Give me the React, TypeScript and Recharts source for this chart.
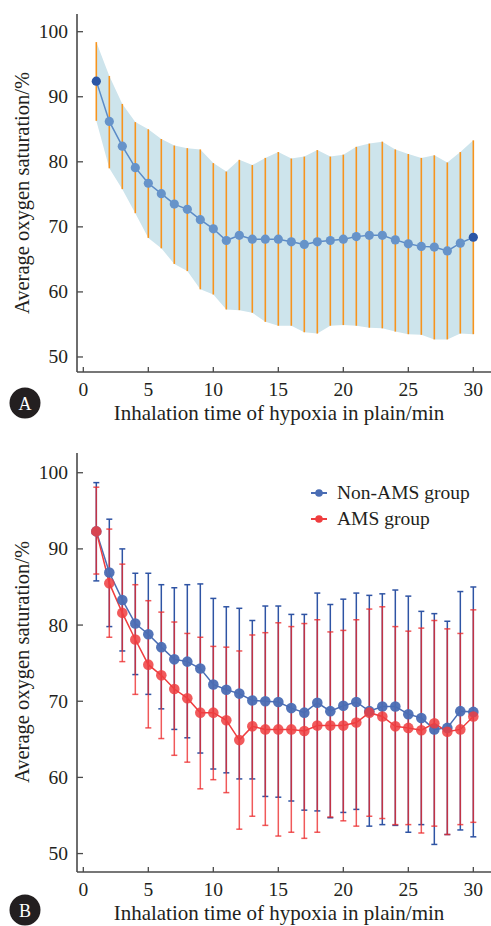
import React from 'react';
import { ComposedChart, Line, Area, XAxis, YAxis, ErrorBar, Legend } from 'recharts';

// ---------- data ----------
const minutes = [1, 2, 3, 4, 5, 6, 7, 8, 9, 10, 11, 12, 13, 14, 15, 16, 17, 18, 19, 20, 21, 22, 23, 24, 25, 26, 27, 28, 29, 30];

// Panel A: all subjects
const meanA = [92.4, 86.2, 82.4, 79.1, 76.7, 75.1, 73.5, 72.7, 71.1, 69.7, 67.9, 68.7, 68.1, 68.1, 68.1, 67.7, 67.3, 67.7, 67.9, 68.1, 68.5, 68.7, 68.7, 68.0, 67.4, 67.0, 66.9, 66.3, 67.5, 68.4];
const upperA = [98.4, 93.2, 88.9, 86.1, 85.0, 83.5, 82.5, 82.1, 81.9, 79.8, 78.5, 80.3, 79.5, 80.6, 81.5, 80.5, 80.8, 81.8, 80.8, 81.1, 82.3, 82.8, 83.1, 81.9, 81.2, 80.6, 81.0, 79.9, 81.5, 83.3];
const lowerA = [86.3, 79.0, 75.8, 72.1, 68.3, 66.7, 64.3, 63.2, 60.4, 59.6, 57.3, 57.2, 56.8, 55.4, 54.8, 54.8, 53.8, 53.6, 54.8, 54.9, 54.8, 54.5, 54.4, 53.9, 53.5, 53.4, 52.7, 52.7, 53.6, 53.5];

// Panel B: Non-AMS group
const nonAmsMean = [92.3, 86.9, 83.3, 80.2, 78.8, 77.1, 75.5, 75.2, 74.3, 72.2, 71.5, 71.0, 70.1, 70.0, 69.9, 69.1, 68.5, 69.8, 68.7, 69.4, 69.9, 68.7, 69.3, 69.3, 68.3, 67.8, 66.3, 66.5, 68.7, 68.6];
const nonAmsUpper = [98.7, 93.9, 90.0, 86.8, 86.8, 85.3, 84.9, 85.3, 85.4, 83.5, 82.4, 82.2, 80.6, 82.5, 82.5, 81.4, 81.4, 84.2, 82.7, 83.4, 84.2, 83.9, 84.1, 84.6, 83.8, 81.8, 81.5, 80.5, 84.4, 85.0];
const nonAmsLower = [85.8, 79.8, 76.6, 73.5, 70.9, 69.0, 66.3, 65.2, 63.2, 61.1, 60.6, 59.8, 59.8, 57.5, 57.4, 56.9, 55.7, 55.6, 54.7, 55.4, 55.8, 53.6, 53.8, 53.7, 52.8, 53.8, 51.2, 52.5, 53.1, 52.2];

// Panel B: AMS group
const amsMean = [92.3, 85.5, 81.6, 78.1, 74.8, 73.4, 71.6, 70.4, 68.5, 68.5, 67.5, 64.9, 66.7, 66.3, 66.3, 66.3, 66.1, 66.8, 66.8, 66.8, 67.2, 68.5, 68.0, 66.7, 66.5, 66.2, 67.1, 66.0, 66.3, 68.0];
const amsUpper = [98.1, 92.6, 88.0, 85.3, 83.2, 81.7, 80.4, 78.9, 78.4, 77.2, 77.1, 76.6, 78.7, 79.0, 80.3, 79.8, 80.2, 80.7, 79.1, 79.3, 80.7, 82.1, 82.4, 79.8, 79.2, 79.6, 80.6, 79.5, 78.9, 82.0];
const amsLower = [86.7, 78.4, 75.2, 70.9, 66.5, 65.1, 62.9, 62.0, 58.5, 59.7, 58.0, 53.2, 54.9, 53.7, 52.3, 52.8, 52.0, 52.8, 54.8, 54.3, 53.6, 54.9, 54.6, 53.8, 53.8, 52.7, 53.6, 52.5, 53.8, 54.1];

const xTicks = [0, 5, 10, 15, 20, 25, 30];
const yTicks = [50, 60, 70, 80, 90, 100];
const seriesNames = ['Non-AMS group', 'AMS group'];
const xTitle = 'Inhalation time of hypoxia in plain/min';
const yTitle = 'Average oxygen saturation/%';

// ---------- tables built from the arrays ----------
const dataA = minutes.map((m, i) => ({
  minute: m,
  mean: meanA[i],
  band: [lowerA[i], upperA[i]],
  err: [meanA[i] - lowerA[i], upperA[i] - meanA[i]],
}));

const dataB = minutes.map((m, i) => ({
  minute: m,
  nonAms: nonAmsMean[i],
  ams: amsMean[i],
  nonAmsErr: [nonAmsMean[i] - nonAmsLower[i], nonAmsUpper[i] - nonAmsMean[i]],
  amsErr: [amsMean[i] - amsLower[i], amsUpper[i] - amsMean[i]],
}));

// ---------- styles ----------
const FONT = '"Liberation Serif", "Times New Roman", serif';
const AXIS = '#4a4a4a';
const TEXT = '#231f20';
const X_DOMAIN: [number, number] = [-0.485, 31.36];
const Y_DOMAIN_A: [number, number] = [47.69, 102.72];
const Y_DOMAIN_B: [number, number] = [47.58, 102.59];
const BLUE = '#4a6db4';
const RED = '#ef3d3f';

const XTick = (props: any) => {
  const { x, y, payload } = props;
  return (
    <g>
      <line x1={x} y1={y} x2={x} y2={y - 5} stroke={AXIS} strokeWidth={1.3} />
      <text x={x} y={y + 17} textAnchor="middle" dominantBaseline="central" fontSize={19.5} fill={TEXT} fontFamily={FONT}>
        {payload.value}
      </text>
    </g>
  );
};

const YTick = (props: any) => {
  const { x, y, payload } = props;
  return (
    <g>
      <line x1={x} y1={y} x2={x + 6} y2={y} stroke={AXIS} strokeWidth={1.3} />
      <text x={x - 9} y={y} textAnchor="end" dominantBaseline="central" fontSize={19.5} fill={TEXT} fontFamily={FONT}>
        {payload.value}
      </text>
    </g>
  );
};

const renderDotA = (p: any) => {
  const { cx, cy, index } = p;
  const edge = index === 0 || index === dataA.length - 1;
  return <circle key={`da${index}`} cx={cx} cy={cy} r={4.6} fill={edge ? '#2b56a6' : '#6693c9'} stroke="none" />;
};

const legendColors = [BLUE, RED];
const renderLegend = () => (
  <div style={{ fontFamily: FONT, fontSize: 19.5, color: TEXT, lineHeight: '26px' }}>
    {seriesNames.map((name, i) => (
      <div key={name} style={{ display: 'flex', alignItems: 'center', whiteSpace: 'nowrap' }}>
        <svg width={24} height={12} style={{ marginRight: 4 }}>
          <line x1={2} y1={6} x2={18} y2={6} stroke={legendColors[i]} strokeWidth={2} />
          <circle cx={10} cy={6} r={3.8} fill={legendColors[i]} />
        </svg>
        <span>{name}</span>
      </div>
    ))}
  </div>
);

const axisLineStyle = { stroke: AXIS, strokeWidth: 1.6 };

const Badge = ({ cx, cy, label }: { cx: number; cy: number; label: string }) => (
  <g>
    <circle cx={cx} cy={cy} r={15.5} fill="#231f20" />
    <text x={cx} y={cy + 1} textAnchor="middle" dominantBaseline="central" fontSize={18} fill="#ffffff" fontFamily={FONT}>
      {label}
    </text>
  </g>
);

export default function App() {
  return (
    <div style={{ position: 'absolute', left: 0, top: 0, width: 491, height: 926, background: '#fff', fontFamily: FONT }}>
      <div style={{ position: 'absolute', left: 0, top: 0 }}>
        <ComposedChart width={491} height={440} data={dataA} margin={{ top: 14, right: 0, bottom: 0, left: 0 }}>
          <XAxis dataKey="minute" type="number" domain={X_DOMAIN} ticks={xTicks} allowDataOverflow interval={0}
            tick={<XTick />} tickLine={false} tickSize={0} tickMargin={0} height={68} axisLine={axisLineStyle} />
          <XAxis xAxisId="top" orientation="top" type="number" domain={X_DOMAIN} allowDataOverflow
            tick={false} tickLine={false} height={0} axisLine={axisLineStyle} />
          <YAxis type="number" domain={Y_DOMAIN_A} ticks={yTicks} allowDataOverflow interval={0} width={77}
            tick={<YTick />} tickLine={false} tickSize={0} tickMargin={0} axisLine={axisLineStyle} />
          <Area dataKey="band" type="linear" stroke="none" fill="#cde4ec" fillOpacity={1} isAnimationActive={false} activeDot={false} />
          <Line dataKey="mean" stroke="none" dot={false} activeDot={false} isAnimationActive={false} legendType="none">
            <ErrorBar dataKey="err" width={0} stroke="#f7941d" strokeWidth={1.6} direction="y" isAnimationActive={false} />
          </Line>
          <Line dataKey="mean" type="linear" stroke="#5b8bc7" strokeWidth={1.5} dot={renderDotA} activeDot={false} isAnimationActive={false} />
        </ComposedChart>
      </div>
      <div style={{ position: 'absolute', left: 0, top: 440 }}>
        <ComposedChart width={491} height={486} data={dataB} margin={{ top: 13, right: 0, bottom: 0, left: 0 }}>
          <XAxis dataKey="minute" type="number" domain={X_DOMAIN} ticks={xTicks} allowDataOverflow interval={0}
            tick={<XTick />} tickLine={false} tickSize={0} tickMargin={0} height={54} axisLine={axisLineStyle} />
          <XAxis xAxisId="top" orientation="top" type="number" domain={X_DOMAIN} allowDataOverflow
            tick={false} tickLine={false} height={0} axisLine={axisLineStyle} />
          <YAxis type="number" domain={Y_DOMAIN_B} ticks={yTicks} allowDataOverflow interval={0} width={77}
            tick={<YTick />} tickLine={false} tickSize={0} tickMargin={0} axisLine={axisLineStyle} />
          <Line dataKey="nonAms" stroke="none" dot={false} activeDot={false} isAnimationActive={false} legendType="none">
            <ErrorBar dataKey="nonAmsErr" width={3} stroke="#2f54a4" strokeWidth={1.5} direction="y" isAnimationActive={false} />
          </Line>
          <Line dataKey="ams" stroke="none" dot={false} activeDot={false} isAnimationActive={false} legendType="none">
            <ErrorBar dataKey="amsErr" width={3} stroke="#ec2a2c" strokeOpacity={0.78} strokeWidth={1.5} direction="y" isAnimationActive={false} />
          </Line>
          <Line dataKey="nonAms" name={seriesNames[0]} type="linear" stroke={BLUE} strokeWidth={1.5}
            dot={{ r: 5.3, fill: BLUE, fillOpacity: 0.95, stroke: 'none' }} activeDot={false} isAnimationActive={false} />
          <Line dataKey="ams" name={seriesNames[1]} type="linear" stroke={RED} strokeWidth={1.5}
            dot={{ r: 5.3, fill: RED, fillOpacity: 0.85, stroke: 'none' }} activeDot={false} isAnimationActive={false} />
          <Legend layout="horizontal" verticalAlign="middle" align="center" content={renderLegend}
            wrapperStyle={{ position: 'absolute', left: 309, top: 40, width: 182, height: 52 }} />
        </ComposedChart>
      </div>
      <svg width={491} height={926} style={{ position: 'absolute', left: 0, top: 0, pointerEvents: 'none' }}>
        <text x={22} y={193} transform="rotate(-90 22 193)" textAnchor="middle" dominantBaseline="central" fontSize={20.5} fill={TEXT} fontFamily={FONT}>{yTitle}</text>
        <text x={22} y={662} transform="rotate(-90 22 662)" textAnchor="middle" dominantBaseline="central" fontSize={20.5} fill={TEXT} fontFamily={FONT}>{yTitle}</text>
        <text x={279} y={413} textAnchor="middle" dominantBaseline="central" fontSize={21} fill={TEXT} fontFamily={FONT}>{xTitle}</text>
        <text x={279} y={913} textAnchor="middle" dominantBaseline="central" fontSize={21} fill={TEXT} fontFamily={FONT}>{xTitle}</text>
        <Badge cx={25} cy={403} label="A" />
        <Badge cx={25} cy={910} label="B" />
      </svg>
    </div>
  );
}
